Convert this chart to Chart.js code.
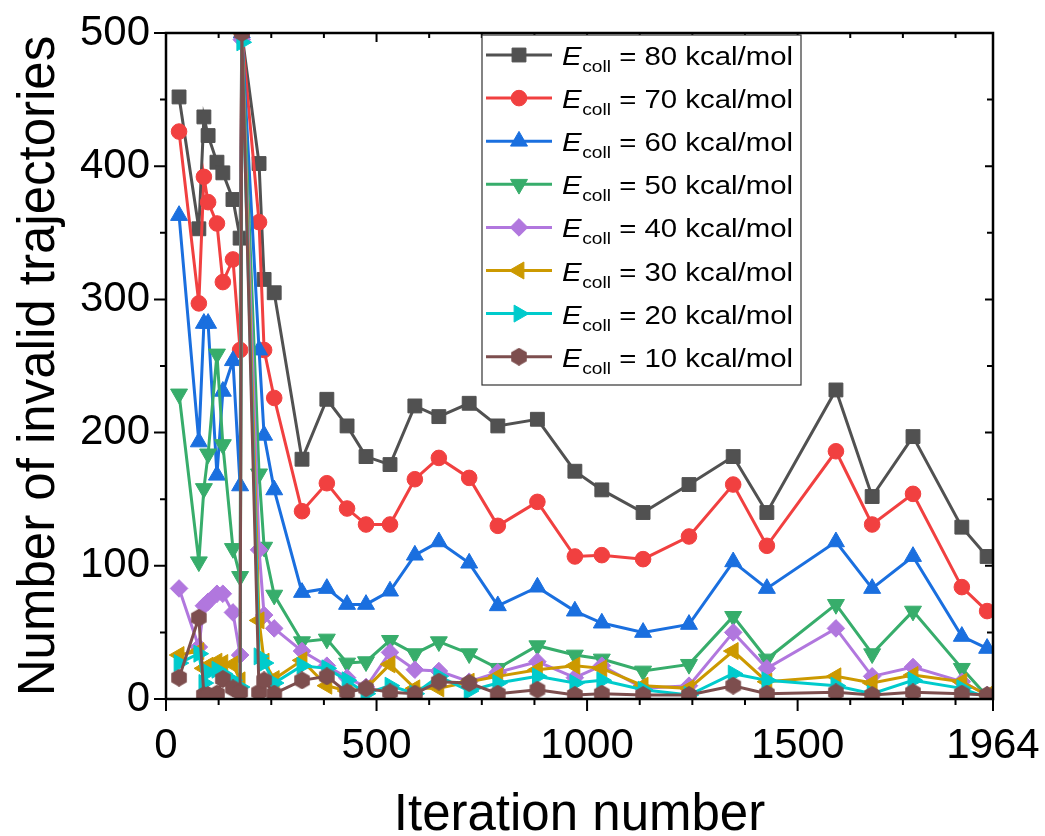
<!DOCTYPE html>
<html>
<head>
<meta charset="utf-8">
<script src="https://cdn.jsdelivr.net/npm/chart.js@4.4.0/dist/chart.umd.min.js"></script>
<style>
  html, body { margin: 0; padding: 0; background: #ffffff; }
  canvas { display: block; }
</style>
</head>
<body>
<canvas id="chart" width="1045" height="836"></canvas>
<script>
// Iteration numbers at which the invalid trajectories were counted
const iterations = [31, 78, 90, 100, 121, 135, 159, 176, 180, 221, 233, 257,
  323, 382, 430, 475, 532, 591, 648, 720, 788, 882, 971, 1035, 1133, 1242,
  1347, 1427, 1591, 1677, 1774, 1890, 1950];

// Invalid trajectories per collision energy (kcal/mol)
const e80 = [452, 353, 437, 423, 403, 395, 375, 346, 500, 402, 315, 305,
  180, 225, 205, 182, 176, 220, 212, 222, 205, 210, 171, 157, 140, 161,
  182, 140, 232, 152, 197, 129, 107];
const e70 = [426, 297, 392, 373, 357, 313, 330, 262, 500, 358, 262, 226,
  141, 162, 143, 131, 131, 165, 181, 166, 130, 148, 107, 108, 105, 122,
  161, 115, 186, 131, 154, 84, 66];
const e60 = [363, 193, 282, 282, 168, 231, 254, 160, 500, 262, 198, 157,
  80, 83, 71, 71, 81, 108, 118, 102, 70, 84, 66, 57, 50, 56,
  103, 83, 118, 83, 107, 47, 38];
const e50 = [229, 103, 158, 184, 259, 191, 113, 92, 500, 169, 114, 78,
  43, 45, 27, 28, 44, 34, 43, 34, 23, 40, 33, 30, 21, 26,
  62, 30, 71, 34, 66, 23, 2];
const e40 = [83, 39, 70, 73, 79, 79, 65, 33, 495, 112, 63, 53,
  36, 25, 16, 9, 35, 22, 21, 13, 20, 28, 16, 25, 8, 10,
  50, 23, 53, 17, 24, 13, 3];
const e30 = [33, 36, 23, 25, 28, 27, 26, 14, 500, 59, 28, 15,
  29, 10, 6, 8, 26, 8, 8, 13, 17, 22, 25, 23, 10, 8,
  36, 13, 17, 12, 18, 13, 3];
const e20 = [27, 34, 12, 20, 22, 19, 14, 9, 493, 32, 27, 12,
  25, 23, 14, 4, 10, 4, 17, 6, 12, 17, 12, 14, 7, 3,
  19, 14, 10, 4, 14, 8, 1];
const e10 = [16, 61, 3, 3, 4, 15, 8, 5, 500, 5, 14, 4,
  14, 17, 5, 8, 5, 4, 13, 12, 4, 7, 3, 4, 3, 3,
  10, 4, 5, 3, 5, 4, 3];

const energies = [80, 70, 60, 50, 40, 30, 20, 10];
const seriesValues = [e80, e70, e60, e50, e40, e30, e20, e10];

// Axis ticks
const xMajorTicks = [0, 500, 1000, 1500, 1964];
const xMinorStep = 125;
const yMajorTicks = [0, 100, 200, 300, 400, 500];
const yMinorStep = 50;

// Styling
const FONT = '"Liberation Sans", Arial, Helvetica, sans-serif';
const colors = ['#515151', '#F14040', '#1A6FDF', '#37AD6B', '#B177DE', '#CC9900', '#00CBCC', '#7D4E4E'];
const plotBox = { left: 166, top: 33, right: 993, bottom: 699 };

function hexagonMarker(color, size) {
  const c = document.createElement('canvas');
  c.width = size; c.height = size;
  const g = c.getContext('2d');
  const r = size / 2;
  g.beginPath();
  for (let i = 0; i < 6; i++) {
    const a = Math.PI / 2 + i * Math.PI / 3;
    const px = r + r * Math.cos(a);
    const py = r - r * Math.sin(a);
    if (i === 0) g.moveTo(px, py); else g.lineTo(px, py);
  }
  g.closePath();
  g.fillStyle = color;
  g.fill();
  return c;
}

const markers = [
  { style: 'rect', rotation: 0, radius: 9.8 },
  { style: 'circle', rotation: 0, radius: 7.8 },
  { style: 'triangle', rotation: 0, radius: 9.8 },
  { style: 'triangle', rotation: 180, radius: 9.8 },
  { style: 'rectRot', rotation: 0, radius: 8.8 },
  { style: 'triangle', rotation: 270, radius: 9.8 },
  { style: 'triangle', rotation: 90, radius: 9.8 },
  { style: hexagonMarker(colors[7], 18), rotation: 0, radius: 9 }
];

const datasets = seriesValues.map((vals, i) => ({
  label: 'E_coll = ' + energies[i] + ' kcal/mol',
  data: iterations.map((x, j) => ({ x: x, y: vals[j] })),
  borderColor: colors[i],
  backgroundColor: colors[i],
  borderWidth: 3,
  pointStyle: markers[i].style,
  pointRotation: markers[i].rotation,
  pointRadius: markers[i].radius,
  pointBorderWidth: 1,
  pointBorderColor: colors[i],
  pointBackgroundColor: colors[i],
  tension: 0,
  fill: false,
  order: seriesValues.length - i
}));

// Box frame with outward ticks on bottom/left and inward ticks on top/right
const framePlugin = {
  id: 'frame',
  afterDraw(chart) {
    const { ctx, chartArea: a, scales } = chart;
    const xs = scales.x, ys = scales.y;
    ctx.save();
    ctx.strokeStyle = '#000';
    ctx.lineWidth = 2.5;
    ctx.lineCap = 'butt';
    ctx.strokeRect(a.left, a.top, a.right - a.left, a.bottom - a.top);

    ctx.lineWidth = 2;
    const xMinor = [];
    for (let v = xMinorStep; v < xs.max; v += xMinorStep) {
      if (!xMajorTicks.includes(v)) xMinor.push(v);
    }
    const yMinor = [];
    for (let v = yMinorStep; v < ys.max; v += yMinorStep) {
      if (!yMajorTicks.includes(v)) yMinor.push(v);
    }
    ctx.beginPath();
    xMajorTicks.forEach(v => {
      const p = xs.getPixelForValue(v);
      ctx.moveTo(p, a.bottom); ctx.lineTo(p, a.bottom + 12);
      ctx.moveTo(p, a.top); ctx.lineTo(p, a.top + 9);
    });
    xMinor.forEach(v => {
      const p = xs.getPixelForValue(v);
      ctx.moveTo(p, a.bottom); ctx.lineTo(p, a.bottom + 6);
      ctx.moveTo(p, a.top); ctx.lineTo(p, a.top + 5);
    });
    yMajorTicks.forEach(v => {
      const p = ys.getPixelForValue(v);
      ctx.moveTo(a.left, p); ctx.lineTo(a.left - 12, p);
      ctx.moveTo(a.right, p); ctx.lineTo(a.right - 8, p);
    });
    yMinor.forEach(v => {
      const p = ys.getPixelForValue(v);
      ctx.moveTo(a.left, p); ctx.lineTo(a.left - 6, p);
      ctx.moveTo(a.right, p); ctx.lineTo(a.right - 6, p);
    });
    ctx.stroke();
    ctx.restore();
  }
};

// Legend with italic E and subscript "coll"
const legendPlugin = {
  id: 'collLegend',
  afterDraw(chart) {
    const { ctx } = chart;
    const box = { left: 482, top: 35, right: 801, bottom: 385 };
    ctx.save();
    ctx.fillStyle = '#ffffff';
    ctx.fillRect(box.left, box.top, box.right - box.left, box.bottom - box.top);
    ctx.strokeStyle = '#333333';
    ctx.lineWidth = 1.2;
    ctx.strokeRect(box.left, box.top, box.right - box.left, box.bottom - box.top);

    const stretch = 1.13;
    chart.data.datasets.forEach((ds, i) => {
      const y = 55 + i * 43.1;
      ctx.strokeStyle = ds.borderColor;
      ctx.lineWidth = 3;
      ctx.beginPath();
      ctx.moveTo(486, y); ctx.lineTo(552, y);
      ctx.stroke();
      ctx.fillStyle = ds.backgroundColor;
      ctx.strokeStyle = ds.borderColor;
      ctx.lineWidth = 1;
      Chart.helpers.drawPoint(ctx, {
        pointStyle: ds.pointStyle,
        rotation: ds.pointRotation,
        radius: ds.pointRadius,
        borderWidth: 1
      }, 519, y);

      ctx.save();
      ctx.translate(562, y + 10);
      ctx.scale(stretch, 1);
      ctx.fillStyle = '#000';
      ctx.textBaseline = 'alphabetic';
      ctx.textAlign = 'left';
      ctx.font = 'italic 26px ' + FONT;
      ctx.fillText('E', 0, 0);
      let cx = ctx.measureText('E').width + 0.5;
      ctx.font = '17px ' + FONT;
      ctx.fillText('coll', cx, 7);
      cx += ctx.measureText('coll').width;
      ctx.font = '26px ' + FONT;
      ctx.fillText(' = ' + energies[i] + ' kcal/mol', cx, 0);
      ctx.restore();
    });
    ctx.restore();
  }
};

// Invisible tick marks that only hold the labels away from the axes
const labelGap = (len) => ({
  display: true,
  drawOnChartArea: false,
  drawTicks: true,
  tickLength: len,
  tickColor: 'rgba(0,0,0,0)'
});

const chart = new Chart(document.getElementById('chart'), {
  type: 'line',
  data: { datasets: datasets },
  plugins: [framePlugin, legendPlugin],
  options: {
    responsive: false,
    animation: false,
    events: [],
    layout: { padding: { left: 0, top: 33, right: 52, bottom: 0 } },
    plugins: { legend: { display: false }, tooltip: { enabled: false } },
    scales: {
      x: {
        type: 'linear',
        min: 0,
        max: 1964,
        grid: labelGap(22),
        border: { display: false },
        afterBuildTicks: s => { s.ticks = xMajorTicks.map(v => ({ value: v })); },
        afterFit: s => { s.height = 137; },
        ticks: {
          autoSkip: false,
          maxRotation: 0,
          padding: 0,
          color: '#000',
          font: { family: FONT, size: 42 },
          callback: v => String(v)
        },
        title: {
          display: true,
          text: 'Iteration number',
          color: '#000',
          font: { family: FONT, size: 51, lineHeight: 1 },
          padding: { top: 0, bottom: -5 }
        }
      },
      y: {
        min: 0,
        max: 500,
        grid: labelGap(16),
        border: { display: false },
        afterBuildTicks: s => { s.ticks = yMajorTicks.map(v => ({ value: v })); },
        afterFit: s => { s.width = 166; },
        ticks: {
          padding: 0,
          color: '#000',
          font: { family: FONT, size: 42 },
          callback: v => String(v)
        },
        title: {
          display: true,
          text: 'Number of invalid trajectories',
          color: '#000',
          font: { family: FONT, size: 51, lineHeight: 1.2 },
          padding: { top: 9, bottom: 0 }
        }
      }
    }
  }
});

// Settle the plot area on the intended box in case label overflow
// pushes the edges inwards.
for (let k = 0; k < 4; k++) {
  const a = chart.chartArea;
  const p = chart.options.layout.padding;
  const dTop = plotBox.top - a.top;
  const dRight = a.right - plotBox.right;
  if (Math.abs(dTop) < 0.5 && Math.abs(dRight) < 0.5) break;
  p.top += dTop;
  p.right += dRight;
  chart.update();
}
</script>
</body>
</html>
